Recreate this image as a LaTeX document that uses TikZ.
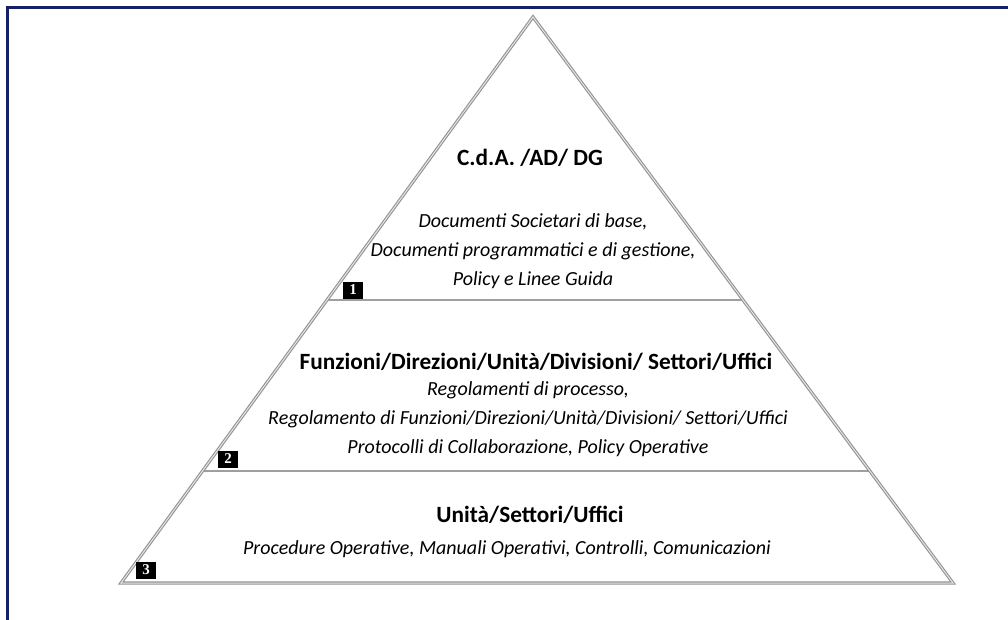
\documentclass[tikz,border=0pt]{standalone}
\usepackage{fontspec}
\setmainfont{Carlito}
\newfontfamily\numfont{Liberation Serif}
\usetikzlibrary{calc}
\definecolor{frameblue}{RGB}{22,32,100}
\begin{document}
\begin{tikzpicture}
	[x=1pt,y=-1pt,
	 pyr edge/.style={draw=gray!85,double=gray!20,double distance=1pt,line width=1.1pt,line join=miter},
	 level line/.style={draw=gray!75,line width=2.6pt},
	 level title/.style={font=\bfseries\fontsize{23.3}{28}\selectfont},
	 level text/.style={font=\itshape\fontsize{20}{29}\selectfont,align=center},
	 level num/.style={fill=black,text=white,font=\numfont\bfseries\fontsize{15}{15}\selectfont,
		inner sep=0pt,minimum width=20pt,minimum height=17pt}]
	\useasboundingbox (0,0) rectangle (1008,620);
	\draw[frameblue,line width=3pt] (7,620) -- (7,8) -- (1008,8);
	% pyramid
	\coordinate (apex) at (533,17);
	\coordinate (bl) at (121,583);
	\coordinate (br) at (953,583);
	\coordinate (l1) at ($(apex)!0.5!(bl)$);
	\coordinate (r1) at ($(apex)!0.5!(br)$);
	\coordinate (l2) at ($(apex)!0.802!(bl)$);
	\coordinate (r2) at ($(apex)!0.802!(br)$);
	\draw[level line] (l1) -- (r1);
	\draw[level line] (l2) -- (r2);
	\draw[pyr edge] (apex) -- (bl) -- (br) -- cycle;
	% level 1
	\node[level title] (t1) at (530,158) {C.d.A. /AD/ DG};
	\node[level text] (d1) at (533,251) {Documenti Societari di base,\\Documenti programmatici e di gestione,\\Policy e Linee Guida};
	\node[level num] (n1) at (353,290) {1};
	% level 2
	\node[level title] (t2) at (536,362) {Funzioni/Direzioni/Unità/Divisioni/ Settori/Uffici};
	\node[level text] (d2) at (528,419) {Regolamenti di processo,\\Regolamento di Funzioni/Direzioni/Unità/Divisioni/ Settori/Uffici\\Protocolli di Collaborazione, Policy Operative};
	\node[level num] (n2) at (228,459) {2};
	% level 3
	\node[level title] (t3) at (530,515) {Unità/Settori/Uffici};
	\node[level text] (d3) at (507,549) {Procedure Operative, Manuali Operativi, Controlli, Comunicazioni};
	\node[level num] (n3) at (146,570) {3};
\end{tikzpicture}
\end{document}
